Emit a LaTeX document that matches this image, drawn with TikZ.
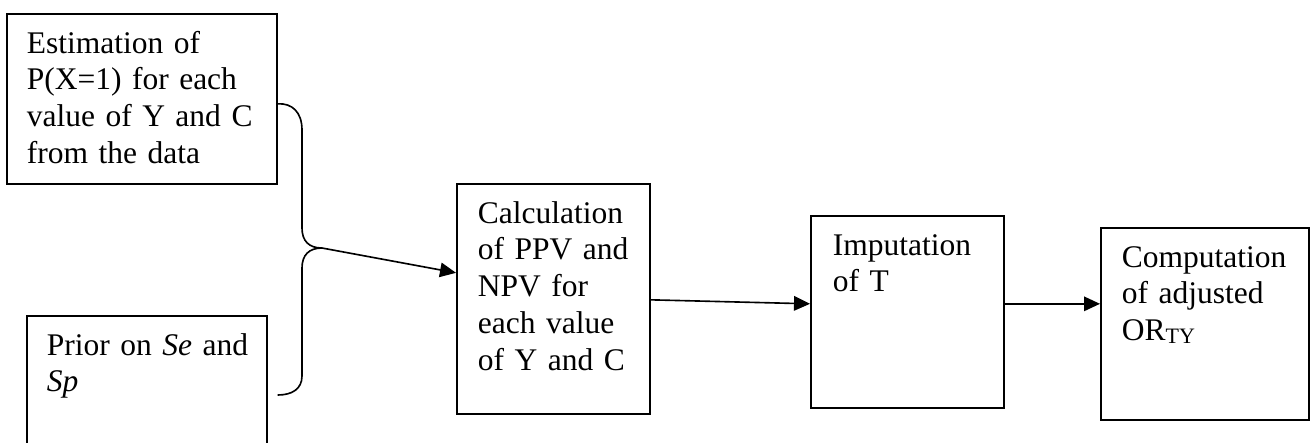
\documentclass[tikz,border=0pt]{standalone}
\usepackage{fontspec}
\setmainfont{Liberation Serif}
\usetikzlibrary{arrows.meta,calc}
\newcommand\stagefont{\fontsize{12.6pt}{14.7pt}\selectfont
  \spaceskip=0.23em plus 0.1em minus 0.05em\relax}
\begin{document}
\begin{tikzpicture}[x=0.4pt,y=-0.4pt,line width=0.65pt,
  stagebox/.style={draw,rectangle,inner sep=0pt,anchor=north west},
  stagetext/.style={anchor=base west,inner sep=0pt,text width=120pt,align=left,
    font=\stagefont},
  flow/.style={-{Triangle[length=6.4pt,width=5.8pt]}}]
\useasboundingbox (0,0) rectangle (1310,442);

% boxes
\node[stagebox,minimum width=108pt,minimum height=68pt] (est) at (6,13) {};
\node[stagebox,minimum width=96pt,minimum height=53pt] (prior) at (26,315) {};
\node[stagebox,minimum width=77.2pt,minimum height=92pt] (calc) at (456,183) {};
\node[stagebox,minimum width=77.2pt,minimum height=76.8pt] (imp) at (810,215) {};
\node[stagebox,minimum width=83.2pt,minimum height=76.8pt] (orc) at (1100,227) {};

% texts
\node[stagetext] (estT) at ($(est.north west)+(20,40)$)
  {Estimation of\\P(X=1) for each\\value of Y and C\\from the data};
\node[stagetext] (priorT) at ($(prior.north west)+(20,40)$)
  {Prior on \textit{Se} and\\\textit{Sp}};
\node[stagetext] (calcT) at ($(calc.north west)+(21,40)$)
  {Calculation\\of PPV and\\NPV for\\each value\\of Y and C};
\node[stagetext] (impT) at ($(imp.north west)+(22,40)$)
  {Imputation\\of T};
\node[stagetext] (orcT) at ($(orc.north west)+(21,40)$)
  {Computation\\of adjusted\\OR\raisebox{-1pt}{\fontsize{8.8pt}{9pt}\selectfont TY}};

% joining brace
\coordinate (top) at ($(est.east)+(0,5)$);
\coordinate (bot) at ($(prior.north east)+(10,80)$);
\coordinate (tip) at (322,248);
\draw (top) .. controls (292,103) and (302,112) .. (302,130)
  -- (302,228) .. controls (302,241) and (309,248) .. (tip);
\draw (tip) .. controls (309,248) and (302,255) .. (302,268)
  -- (302,376) .. controls (302,389) and (292,395) .. (bot);

% flow arrows
\draw[flow] (tip) -- ($(calc.west)+(0,-26)$);
\draw[flow] ($(calc.east)+(0,1)$) -- ($(imp.west)+(0,-8)$);
\draw[flow] ($(imp.east)+(0,-8)$) -- ($(orc.west)+(0,-20)$);
\end{tikzpicture}
\end{document}
